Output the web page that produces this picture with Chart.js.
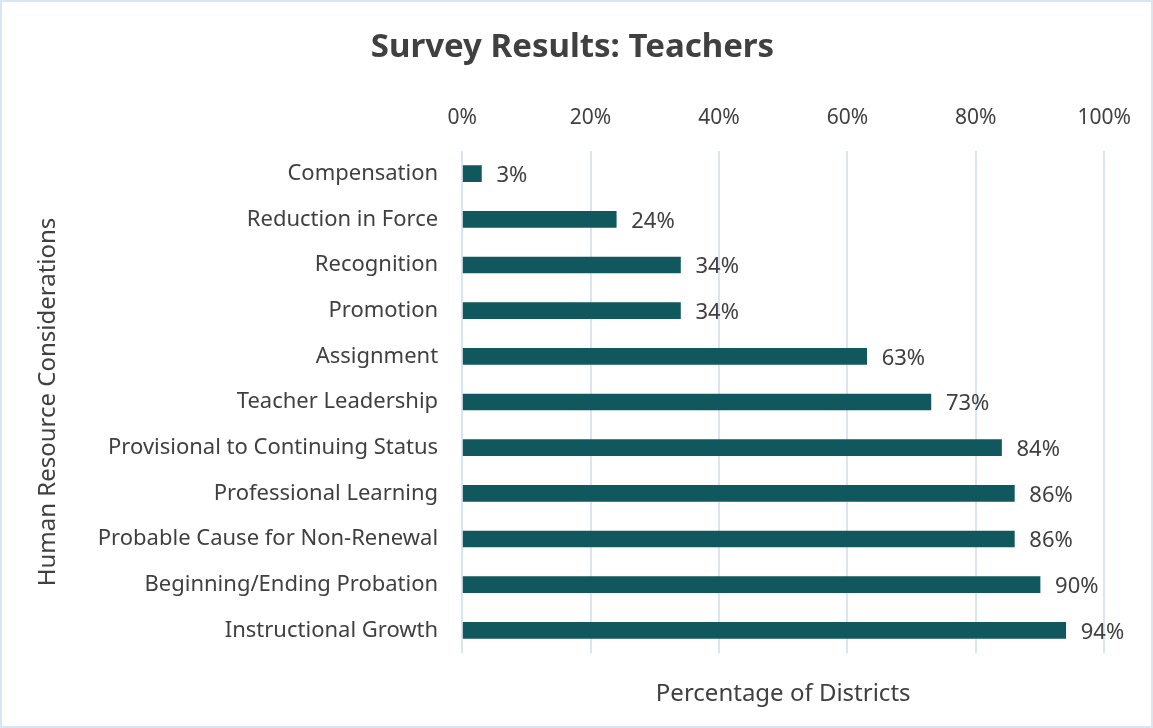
<!DOCTYPE html>
<html>
<head>
<meta charset="utf-8">
<script src="https://cdn.jsdelivr.net/npm/chart.js@4.4.1/dist/chart.umd.min.js"></script>
<style>
  html, body { margin: 0; padding: 0; background: #fff; }
  #wrap { width: 1149px; height: 724px; border: 2px solid #d9e5f0; position: relative; }
</style>
</head>
<body>
<div id="wrap"><canvas id="chart"></canvas></div>
<script>
var categories = [
  'Compensation',
  'Reduction in Force',
  'Recognition',
  'Promotion',
  'Assignment',
  'Teacher Leadership',
  'Provisional to Continuing Status',
  'Professional Learning',
  'Probable Cause for Non-Renewal',
  'Beginning/Ending Probation',
  'Instructional Growth'
];
var values = [3, 24, 34, 34, 63, 73, 84, 86, 86, 90, 94];
var tickValues = [0, 20, 40, 60, 80, 100];

var textColor = '#404040';
var fontFamily = '"Noto Sans", "Open Sans", sans-serif';

// draws the "xx%" labels at the end of every bar
var barLabels = {
  id: 'barLabels',
  afterDatasetsDraw: function(chart) {
    var ctx = chart.ctx;
    var meta = chart.getDatasetMeta(0);
    ctx.save();
    ctx.font = '22px ' + fontFamily;
    ctx.fillStyle = textColor;
    ctx.textAlign = 'left';
    ctx.textBaseline = 'middle';
    meta.data.forEach(function(bar, i) {
      ctx.fillText(values[i] + '%', bar.x + 15, bar.y + 2);
    });
    ctx.restore();
  }
};

var ctx = document.getElementById('chart');
new Chart(ctx, {
  type: 'bar',
  data: {
    labels: categories,
    datasets: [{
      data: values,
      backgroundColor: '#10585e',
      barThickness: 16
    }]
  },
  plugins: [barLabels],
  options: {
    indexAxis: 'y',
    responsive: true,
    maintainAspectRatio: false,
    animation: false,
    layout: { padding: { left: 28, right: 36, top: 8, bottom: 13 } },
    plugins: {
      legend: { display: false },
      tooltip: { enabled: false },
      title: {
        display: true,
        text: 'Survey Results: Teachers',
        color: textColor,
        font: { family: fontFamily, size: 33, weight: 'bold' },
        padding: { top: 18, bottom: 18 }
      }
    },
    scales: {
      x: {
        position: 'top',
        min: 0,
        max: 100,
        afterBuildTicks: function(axis) {
          axis.ticks = tickValues.map(function(v) { return { value: v }; });
        },
        ticks: {
          color: textColor,
          font: { family: fontFamily, size: 21 },
          padding: 20,
          callback: function(v) { return v + '%'; }
        },
        grid: { color: '#d9e5f0', lineWidth: 2, drawTicks: false },
        border: { display: false }
      },
      x2: {
        position: 'bottom',
        min: 0,
        max: 100,
        ticks: { display: false },
        grid: { display: false, drawTicks: false },
        border: { display: false },
        title: {
          display: true,
          text: 'Percentage of Districts',
          color: textColor,
          font: { family: fontFamily, size: 24 },
          padding: { top: 27, bottom: 4 }
        }
      },
      y: {
        ticks: {
          color: textColor,
          font: { family: fontFamily, size: 22 },
          padding: 16
        },
        grid: { display: false },
        border: { display: false },
        title: {
          display: true,
          text: 'Human Resource Considerations',
          color: textColor,
          font: { family: fontFamily, size: 24 },
          padding: { bottom: 19 }
        }
      }
    }
  }
});
</script>
</body>
</html>
